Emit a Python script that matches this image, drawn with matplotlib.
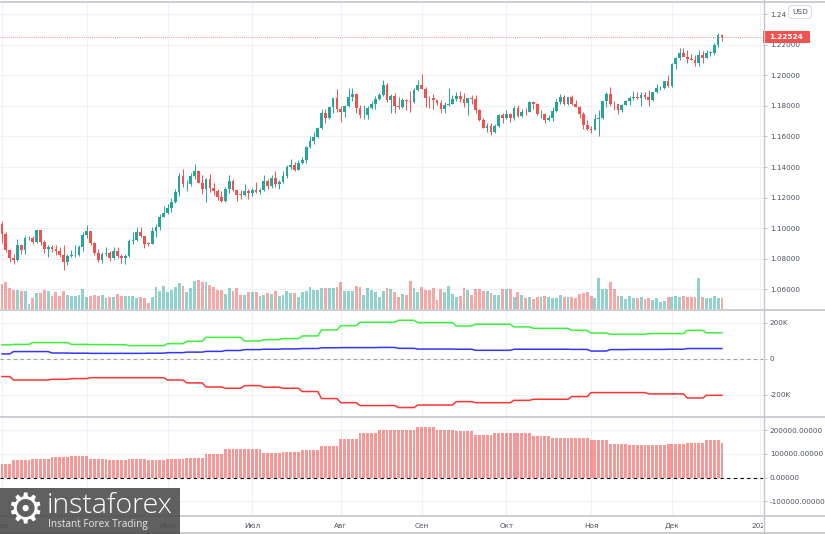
import matplotlib.pyplot as plt
from matplotlib.lines import Line2D
from matplotlib.patches import Rectangle
import numpy as np
import pandas as pd

plt.rcParams['axes.unicode_minus'] = False

# ---------------- EUR/USD, дневки 01.04.2020 - 18.12.2020 ----------------
opens = [1.1030, 1.0963, 1.0856, 1.0804, 1.0792, 1.0892, 1.0856, 1.0935, 1.0937, 1.0912,
         1.0985, 1.0907, 1.0861, 1.0876, 1.0861, 1.0854, 1.0823, 1.0776, 1.0821, 1.0822,
         1.0823, 1.0874, 1.0954, 1.0981, 1.0906, 1.0838, 1.0795, 1.0834, 1.0838, 1.0806,
         1.0848, 1.0817, 1.0805, 1.0820, 1.0918, 1.0922, 1.0975, 1.0949, 1.0900, 1.0899,
         1.0980, 1.1006, 1.1075, 1.1100, 1.1135, 1.1172, 1.1236, 1.1339, 1.1290, 1.1292,
         1.1342, 1.1372, 1.1298, 1.1256, 1.1320, 1.1264, 1.1246, 1.1205, 1.1177, 1.1257,
         1.1308, 1.1249, 1.1220, 1.1219, 1.1240, 1.1233, 1.1250, 1.1238, 1.1247, 1.1309,
         1.1274, 1.1330, 1.1287, 1.1300, 1.1343, 1.1398, 1.1411, 1.1383, 1.1428, 1.1444,
         1.1528, 1.1569, 1.1594, 1.1656, 1.1752, 1.1718, 1.1790, 1.1848, 1.1778, 1.1761,
         1.1801, 1.1859, 1.1876, 1.1785, 1.1737, 1.1738, 1.1786, 1.1812, 1.1842, 1.1869,
         1.1933, 1.1838, 1.1862, 1.1796, 1.1792, 1.1836, 1.1830, 1.1823, 1.1904, 1.1937,
         1.1913, 1.1853, 1.1850, 1.1837, 1.1816, 1.1778, 1.1802, 1.1815, 1.1845, 1.1864,
         1.1845, 1.1817, 1.1848, 1.1842, 1.1771, 1.1707, 1.1658, 1.1670, 1.1632, 1.1668,
         1.1741, 1.1722, 1.1747, 1.1717, 1.1783, 1.1735, 1.1762, 1.1760, 1.1825, 1.1814,
         1.1744, 1.1747, 1.1706, 1.1718, 1.1767, 1.1823, 1.1860, 1.1813, 1.1858, 1.1814,
         1.1795, 1.1746, 1.1673, 1.1646, 1.1640, 1.1716, 1.1723, 1.1830, 1.1874, 1.1813,
         1.1812, 1.1775, 1.1808, 1.1834, 1.1852, 1.1857, 1.1852, 1.1872, 1.1856, 1.1840,
         1.1887, 1.1914, 1.1917, 1.1962, 1.1927, 1.2070, 1.2114, 1.2148, 1.2120, 1.2108,
         1.2102, 1.2079, 1.2134, 1.2112, 1.2147, 1.2148, 1.2197, 1.2266]
highs = [1.1047, 1.0972, 1.0862, 1.0833, 1.0927, 1.0893, 1.0951, 1.0952, 1.0947, 1.0990,
         1.0990, 1.0925, 1.0888, 1.0891, 1.0890, 1.0875, 1.0887, 1.0829, 1.0860, 1.0890,
         1.0887, 1.0974, 1.1019, 1.0982, 1.0907, 1.0867, 1.0846, 1.0876, 1.0850, 1.0874,
         1.0878, 1.0830, 1.0829, 1.0927, 1.0975, 1.1009, 1.1008, 1.0952, 1.0907, 1.1009,
         1.1030, 1.1092, 1.1147, 1.1155, 1.1197, 1.1257, 1.1362, 1.1384, 1.1318, 1.1362,
         1.1422, 1.1383, 1.1346, 1.1328, 1.1351, 1.1296, 1.1257, 1.1241, 1.1271, 1.1349,
         1.1322, 1.1255, 1.1249, 1.1287, 1.1256, 1.1265, 1.1303, 1.1260, 1.1346, 1.1320,
         1.1345, 1.1371, 1.1318, 1.1375, 1.1411, 1.1452, 1.1434, 1.1449, 1.1468, 1.1540,
         1.1601, 1.1626, 1.1660, 1.1782, 1.1779, 1.1792, 1.1853, 1.1909, 1.1800, 1.1807,
         1.1916, 1.1916, 1.1883, 1.1806, 1.1805, 1.1800, 1.1829, 1.1865, 1.1882, 1.1966,
         1.1951, 1.1880, 1.1883, 1.1856, 1.1850, 1.1847, 1.1900, 1.1915, 1.1967, 1.2011,
         1.1922, 1.1867, 1.1874, 1.1838, 1.1835, 1.1826, 1.1917, 1.1871, 1.1887, 1.1900,
         1.1882, 1.1851, 1.1873, 1.1872, 1.1777, 1.1720, 1.1687, 1.1686, 1.1682, 1.1745,
         1.1755, 1.1770, 1.1752, 1.1799, 1.1806, 1.1778, 1.1783, 1.1831, 1.1829, 1.1820,
         1.1772, 1.1750, 1.1740, 1.1794, 1.1842, 1.1880, 1.1870, 1.1860, 1.1870, 1.1839,
         1.1798, 1.1760, 1.1710, 1.1670, 1.1746, 1.1770, 1.1832, 1.1891, 1.1920, 1.1830,
         1.1815, 1.1815, 1.1840, 1.1866, 1.1894, 1.1892, 1.1890, 1.1890, 1.1905, 1.1892,
         1.1941, 1.1927, 1.1965, 1.2002, 1.2078, 1.2122, 1.2176, 1.2178, 1.2165, 1.2140,
         1.2133, 1.2163, 1.2161, 1.2162, 1.2160, 1.2211, 1.2273, 1.2272]
lows = [1.0906, 1.0846, 1.0777, 1.0769, 1.0784, 1.0830, 1.0831, 1.0925, 1.0898, 1.0906,
        1.0890, 1.0838, 1.0812, 1.0842, 1.0828, 1.0815, 1.0727, 1.0757, 1.0811, 1.0812,
        1.0819, 1.0849, 1.0935, 1.0887, 1.0826, 1.0782, 1.0775, 1.0818, 1.0783, 1.0800,
        1.0804, 1.0774, 1.0766, 1.0810, 1.0897, 1.0915, 1.0940, 1.0870, 1.0885, 1.0897,
        1.0942, 1.0990, 1.1070, 1.1096, 1.1109, 1.1167, 1.1213, 1.1272, 1.1242, 1.1275,
        1.1324, 1.1295, 1.1226, 1.1168, 1.1236, 1.1220, 1.1184, 1.1168, 1.1168, 1.1233,
        1.1241, 1.1181, 1.1190, 1.1209, 1.1193, 1.1212, 1.1228, 1.1221, 1.1240, 1.1255,
        1.1261, 1.1268, 1.1254, 1.1293, 1.1328, 1.1389, 1.1371, 1.1380, 1.1422, 1.1424,
        1.1525, 1.1550, 1.1589, 1.1650, 1.1690, 1.1713, 1.1753, 1.1762, 1.1696, 1.1724,
        1.1791, 1.1834, 1.1754, 1.1720, 1.1711, 1.1716, 1.1780, 1.1780, 1.1838, 1.1866,
        1.1826, 1.1754, 1.1753, 1.1780, 1.1785, 1.1772, 1.1762, 1.1816, 1.1894, 1.1911,
        1.1789, 1.1788, 1.1781, 1.1808, 1.1752, 1.1754, 1.1801, 1.1812, 1.1832, 1.1827,
        1.1789, 1.1737, 1.1814, 1.1753, 1.1701, 1.1652, 1.1627, 1.1612, 1.1625, 1.1664,
        1.1685, 1.1711, 1.1696, 1.1709, 1.1730, 1.1730, 1.1740, 1.1757, 1.1782, 1.1737,
        1.1720, 1.1689, 1.1703, 1.1703, 1.1760, 1.1813, 1.1805, 1.1803, 1.1806, 1.1792,
        1.1717, 1.1650, 1.1640, 1.1622, 1.1639, 1.1603, 1.1712, 1.1792, 1.1800, 1.1771,
        1.1746, 1.1759, 1.1802, 1.1808, 1.1838, 1.1846, 1.1800, 1.1845, 1.1801, 1.1830,
        1.1884, 1.1903, 1.1912, 1.1925, 1.1924, 1.2040, 1.2102, 1.2124, 1.2077, 1.2098,
        1.2058, 1.2060, 1.2081, 1.2110, 1.2125, 1.2130, 1.2183, 1.2223]
closes = [1.0963, 1.0856, 1.0804, 1.0792, 1.0892, 1.0856, 1.0935, 1.0937, 1.0912, 1.0985,
          1.0907, 1.0861, 1.0876, 1.0861, 1.0854, 1.0823, 1.0776, 1.0821, 1.0822, 1.0823,
          1.0874, 1.0954, 1.0981, 1.0906, 1.0838, 1.0795, 1.0834, 1.0838, 1.0806, 1.0848,
          1.0817, 1.0805, 1.0820, 1.0918, 1.0922, 1.0975, 1.0949, 1.0900, 1.0899, 1.0980,
          1.1006, 1.1075, 1.1100, 1.1135, 1.1172, 1.1236, 1.1339, 1.1290, 1.1292, 1.1342,
          1.1372, 1.1298, 1.1256, 1.1320, 1.1264, 1.1246, 1.1205, 1.1177, 1.1257, 1.1308,
          1.1249, 1.1220, 1.1219, 1.1240, 1.1233, 1.1250, 1.1238, 1.1247, 1.1309, 1.1274,
          1.1330, 1.1287, 1.1300, 1.1343, 1.1398, 1.1411, 1.1383, 1.1428, 1.1444, 1.1528,
          1.1569, 1.1594, 1.1656, 1.1752, 1.1718, 1.1790, 1.1848, 1.1778, 1.1761, 1.1801,
          1.1859, 1.1876, 1.1785, 1.1737, 1.1738, 1.1786, 1.1812, 1.1842, 1.1869, 1.1933,
          1.1838, 1.1862, 1.1796, 1.1792, 1.1836, 1.1830, 1.1823, 1.1904, 1.1937, 1.1913,
          1.1853, 1.1850, 1.1837, 1.1816, 1.1778, 1.1802, 1.1815, 1.1845, 1.1864, 1.1845,
          1.1817, 1.1848, 1.1842, 1.1771, 1.1707, 1.1658, 1.1670, 1.1632, 1.1668, 1.1741,
          1.1722, 1.1747, 1.1717, 1.1783, 1.1735, 1.1762, 1.1760, 1.1825, 1.1814, 1.1744,
          1.1747, 1.1706, 1.1718, 1.1767, 1.1823, 1.1860, 1.1813, 1.1858, 1.1814, 1.1795,
          1.1746, 1.1673, 1.1646, 1.1640, 1.1716, 1.1723, 1.1830, 1.1874, 1.1813, 1.1812,
          1.1775, 1.1808, 1.1834, 1.1852, 1.1857, 1.1852, 1.1872, 1.1856, 1.1840, 1.1887,
          1.1914, 1.1917, 1.1962, 1.1927, 1.2070, 1.2114, 1.2148, 1.2120, 1.2108, 1.2102,
          1.2079, 1.2134, 1.2112, 1.2147, 1.2148, 1.2197, 1.2266, 1.22524]
# тиковый объём (условные единицы)
volume = [25, 27, 21, 19, 19, 18, 18, 5, 11, 16, 16, 19, 18, 13, 17, 13, 18, 14, 13, 13,
          14, 20, 12, 13, 14, 13, 14, 11, 12, 12, 15, 13, 13, 13, 13, 11, 12, 11, 6, 12,
          22, 18, 23, 17, 19, 22, 26, 23, 17, 21, 28, 29, 27, 27, 24, 22, 19, 19, 15, 21,
          18, 21, 14, 14, 17, 17, 17, 13, 14, 16, 15, 18, 13, 14, 18, 16, 16, 12, 17, 18,
          22, 19, 19, 21, 21, 21, 21, 22, 27, 18, 18, 18, 23, 22, 14, 21, 19, 17,
          12, 18, 21, 20, 17, 12, 15, 14, 28, 21, 17, 22, 19, 19, 21, 9, 20, 17, 23, 15,
          12, 13, 21, 19, 14, 20, 20, 18, 18, 16, 14, 14, 20, 20, 20, 12, 17, 14, 11, 12,
          10, 12, 12, 13, 12, 11, 11, 14, 12, 12, 12, 11, 15, 16, 17, 13, 11, 31, 20, 20,
          27, 20, 13, 13, 10, 13, 11, 11, 12, 10, 11, 9, 11, 7, 8, 12, 12, 13, 12, 13,
          12, 12, 12, 31, 12, 11, 11, 13, 11, 11]

# ---------------- COT, недельные значения ----------------
cot_start = ['2020-04-01', '2020-04-06', '2020-04-13', '2020-04-20', '2020-04-27',
             '2020-05-04', '2020-05-11', '2020-05-18', '2020-05-25', '2020-06-01',
             '2020-06-08', '2020-06-15', '2020-06-22', '2020-06-29', '2020-07-06',
             '2020-07-13', '2020-07-20', '2020-07-27', '2020-08-03', '2020-08-10',
             '2020-08-17', '2020-08-24', '2020-08-31', '2020-09-07', '2020-09-14',
             '2020-09-21', '2020-09-28', '2020-10-05', '2020-10-12', '2020-10-19',
             '2020-10-26', '2020-11-02', '2020-11-09', '2020-11-16', '2020-11-23',
             '2020-11-30', '2020-12-07', '2020-12-14', '2020-12-18']
cot_green = [78, 81, 91, 91, 81, 80, 79, 74, 74, 85, 98, 120, 120, 100, 107, 113, 128, 161, 185, 204,
             204, 215, 202, 202, 183, 193, 193, 178, 170, 170, 159, 144, 137, 137, 141, 141, 159, 145, 145]
cot_blue = [28, 41, 41, 33, 32, 31, 31, 31, 32, 35, 38, 42, 47, 52, 54, 56, 58, 62, 63, 63,
            64, 59, 55, 55, 54, 48, 48, 54, 54, 54, 53, 44, 52, 53, 53, 54, 58, 58, 58]
cot_red = [-98, -117, -117, -113, -109, -104, -104, -104, -104, -117, -133, -156, -163, -148, -157,
           -163, -181, -220, -243, -259, -259, -270, -256, -256, -237, -243, -243, -230, -224, -224,
           -209, -187, -187, -187, -194, -194, -217, -202, -202]
cot_net = [56, 73, 80, 86, 89, 80, 73, 77, 73, 77, 83, 99, 120, 120, 103, 106, 114, 131, 162, 186,
           201, 201, 213, 200, 196, 180, 187, 187, 175, 168, 168, 156, 141, 135, 135, 141, 145, 159, 144]

month_labels = ['Апр', 'Май', 'Июн', 'Июл', 'Авг', 'Сен', 'Окт', 'Ноя', 'Дек', '2021']
last_price = 1.22524

UP = '#26a69a'
DOWN = '#ef5350'
GRID = '#eef1f7'
TXT = '#4c525e'
SEP = '#c3c5cb'

# ---------------- подготовка ----------------
days = pd.bdate_range('2020-04-01', '2020-12-18')
idx = np.arange(len(days))
o, h, l, c = (np.array(v) for v in (opens, highs, lows, closes))
col = np.where(c >= o, UP, DOWN)

axis_days = pd.bdate_range('2020-04-01', '2021-01-04')
month_pos = [i for i in range(len(axis_days))
             if i == 0 or axis_days[i].month != axis_days[i - 1].month]

week = np.searchsorted(pd.to_datetime(cot_start), days, side='right') - 1
green = np.array(cot_green)[week] * 1000
blue = np.array(cot_blue)[week] * 1000
red = np.array(cot_red)[week] * 1000
net = np.array(cot_net)[week] * 1000

W, H = 825, 534
fig = plt.figure(figsize=(W / 100, H / 100), dpi=100)
fig.patch.set_facecolor('white')


def panel(top, bottom):
    return fig.add_axes([0, 1 - bottom / H, 763 / W, (bottom - top) / H])


ax_p = panel(3, 309)
ax_v = ax_p.twinx()   # объём
ax_c = panel(310, 416)
ax_n = panel(417, 515)
ax_t = panel(516, 534)
XL = (-0.52, 197.66)

for ax in (ax_p, ax_c, ax_n):
    ax.set_xlim(XL)
    ax.set_xticks(month_pos)
    ax.tick_params(axis='x', length=0, labelbottom=False)
    ax.grid(axis='x', color=GRID, lw=0.8)
    ax.yaxis.tick_right()
    ax.tick_params(axis='y', labelsize=5.2, labelcolor=TXT, color='#b2b5be',
                   length=3, width=0.6, pad=2, left=False, labelleft=False,
                   right=True, labelright=True)
    for s in ax.spines.values():
        s.set_visible(False)
    ax.set_axisbelow(True)


def price_fmt(v, pos):
    # верхняя метка частично закрыта плашкой валюты
    return '1.24' if v > 1.2399 else '%.5f' % v


# ---- свечи ----
ax_p.vlines(idx, l, h, colors=col, lw=0.7, zorder=2)
body = np.maximum(np.abs(c - o), 0.0002)
ax_p.bar(idx, body, bottom=np.minimum(o, c), width=0.72, color=col, lw=0, zorder=3)
ax_p.set_ylim(1.04719, 1.24719)
ax_p.set_yticks(np.arange(1.06, 1.2401, 0.02))
ax_p.yaxis.set_major_formatter(plt.FuncFormatter(price_fmt))
ax_p.grid(axis='y', color=GRID, lw=0.8)
ax_p.axhline(last_price, color=DOWN, lw=0.6, ls=(0, (1, 1.5)), alpha=0.8, zorder=1)

ax_v.bar(idx, volume, width=0.75, color=col, alpha=0.5, lw=0)
ax_v.set_ylim(0, max(volume) * 9.9)
ax_v.set_xlim(XL)
ax_v.axis('off')

# метка последней цены
dh = 0.2 * 6 / 306
ax_p.add_patch(Rectangle((1.0, last_price - dh), 47 / 763, 2 * dh,
                         transform=ax_p.get_yaxis_transform(), fc=DOWN, ec='none',
                         clip_on=False, zorder=10))
ax_p.text(1.0 + 23.5 / 763, last_price, '%.5f' % last_price,
          transform=ax_p.get_yaxis_transform(), ha='center', va='center',
          color='white', fontsize=5.4, fontweight='bold', clip_on=False, zorder=11)

# ---- COT линии ----
ax_c.plot(idx, green, color='#3cf03c', lw=1.1)
ax_c.plot(idx, blue, color='#3434ff', lw=1.1)
ax_c.plot(idx, red, color='#ff3434', lw=1.1)
ax_c.axhline(0, color='#9e9e9e', lw=0.8, ls=(0, (3, 3)))
ax_c.set_ylim(-317000, 272000)
ax_c.set_yticks([200000, 0, -200000])
ax_c.set_yticklabels(['200K', '0', '-200K'])
ax_c.grid(axis='y', color=GRID, lw=0.8)

# ---- чистая позиция ----
ax_n.bar(idx, net, width=0.75, color=DOWN, alpha=0.6, lw=0)
ax_n.axhline(0, color='black', lw=0.8, ls=(0, (3, 3)))
ax_n.set_ylim(-157800, 254900)
ax_n.set_yticks([200000, 100000, 0, -100000])
ax_n.yaxis.set_major_formatter(plt.FormatStrFormatter('%.5f'))
ax_n.grid(axis='y', color=GRID, lw=0.8)

# ---- шкала времени (подпись "Май" закрыта логотипом) ----
ax_t.axis('off')
ax_t.set_xlim(XL)
ax_t.set_ylim(0, 1)
for pos, lab in zip(month_pos, month_labels):
    if lab == 'Май':
        continue
    ax_t.text(pos, 0.45, lab, ha='center', va='center', fontsize=5.2, color=TXT, clip_on=True)

# ---- рамки и разделители ----
for y in (1.5, 309.5, 416.5, 515.5, 533):
    fig.add_artist(Line2D([0, 1], [1 - y / H] * 2, transform=fig.transFigure,
                          color=SEP, lw=1.2))
fig.add_artist(Line2D([763.5 / W] * 2, [0, 1], transform=fig.transFigure, color=SEP, lw=1))

fig.text(800 / W, 1 - 12 / H, 'USD', ha='center', va='center', fontsize=5.4, color=TXT,
         bbox=dict(boxstyle='round,pad=0.45', fc='white', ec='#d1d4dc', lw=0.6), zorder=12)

# ---- водяной знак ----
fig.add_artist(Rectangle((0, 0), 180 / W, 46 / H, transform=fig.transFigure,
                         fc='#4a4a4a', ec='none', alpha=0.88, zorder=20))
fig.text(25 / W, 1 - 511 / H, '\u2699', ha='center', va='center', fontsize=30,
         color='white', family='DejaVu Sans', zorder=21)
fig.text(47 / W, 1 - 506 / H, 'instaforex', ha='left', va='center', fontsize=20.5,
         color='white', family='Open Sans', fontweight='light', zorder=21)
fig.text(48 / W, 1 - 525 / H, 'Instant Forex Trading', ha='left', va='center', fontsize=7.2,
         color='#e8e8e8', family='Open Sans', zorder=21)

fig.savefig('out.png', dpi=100, facecolor='white')
